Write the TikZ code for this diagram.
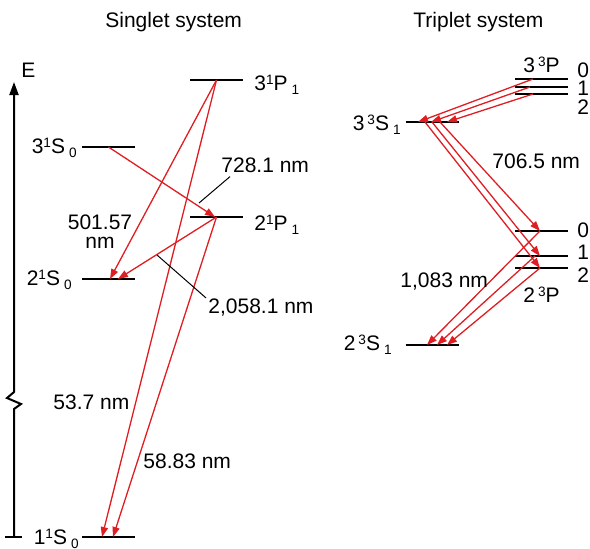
\documentclass[tikz,border=0pt]{standalone}
\usepackage{fontspec}
\setmainfont{Liberation Sans}
\usetikzlibrary{arrows.meta}
\definecolor{trred}{RGB}{222,30,34}
\newcommand{\up}[1]{\raisebox{2.6pt}{\fontsize{6.8}{7}\selectfont #1}}
\newcommand{\dn}[1]{\raisebox{-2pt}{\fontsize{6.8}{7}\selectfont #1}}

\begin{document}
\begin{tikzpicture}[x=0.5pt,y=-0.5pt,
    lvl/.style={inner sep=0pt,outer sep=0pt,minimum width=26.5pt,minimum height=0pt},
    lvlline/.style={line width=1pt},
    tr/.style={draw=trred,line width=0.65pt,-{Triangle[length=5pt,width=3.6pt]}},
    lead/.style={line width=0.5pt},
    txt/.style={inner sep=0pt,font=\fontsize{10.5}{10.5}\selectfont}]
    \useasboundingbox (0,0) rectangle (590,548);
    \node[lvl](P31)at (216.5,80){};
    \node[lvl](S31)at (108.5,147){};
    \node[lvl](P21)at (216.5,217){};
    \node[lvl](S21)at (108.5,279){};
    \node[lvl](S11)at (108.5,537){};
    \node[lvl](P3a)at (541.5,79){};
    \node[lvl](P3b)at (541.5,87){};
    \node[lvl](P3c)at (541.5,94){};
    \node[lvl](S33)at (432,122){};
    \node[lvl](P2a)at (541.5,231){};
    \node[lvl](P2b)at (541.5,256){};
    \node[lvl](P2c)at (541.5,268){};
    \node[lvl](S23)at (432,345){};
    \draw[lvlline](P31.west)--(P31.east);
    \draw[lvlline](S31.west)--(S31.east);
    \draw[lvlline](P21.west)--(P21.east);
    \draw[lvlline](S21.west)--(S21.east);
    \draw[lvlline](S11.west)--(S11.east);
    \draw[lvlline](P3a.west)--(P3a.east);
    \draw[lvlline](P3b.west)--(P3b.east);
    \draw[lvlline](P3c.west)--(P3c.east);
    \draw[lvlline](S33.west)--(S33.east);
    \draw[lvlline](P2a.west)--(P2a.east);
    \draw[lvlline](P2b.west)--(P2b.east);
    \draw[lvlline](P2c.west)--(P2c.east);
    \draw[lvlline](S23.west)--(S23.east);
    \coordinate(Etop)at (14,82);
    \coordinate(Ebot)at (14,537);
    \coordinate(b1)at (14,392);
    \coordinate(b2)at (7,398);
    \coordinate(b3)at (21,404);
    \coordinate(b4)at (14,409);
    \coordinate(tl)at (5,537);
    \coordinate(tr)at (22,537);
    \draw[line width=1pt,-{Triangle[length=6.5pt,width=4.5pt]}](Ebot)--(b4)--(b3)--(b2)--(b1)--(Etop);
    \draw[line width=1pt](tl)--(tr);
    \draw[tr](S31.center)--([xshift=-0.75pt]P21.center);
    \draw[tr](P31.center)--([xshift=0.75pt]S21.center);
    \draw[tr](P21.center)--([xshift=4.75pt]S21.center);
    \draw[tr](P31.center)--([xshift=-3.25pt]S11.center);
    \draw[tr](P21.center)--([xshift=2.25pt]S11.center);
    \draw[tr]([xshift=-4.25pt]P3a.center)--([xshift=-7pt]S33.center);
    \draw[tr]([xshift=-5.75pt]P3b.center)--([xshift=-0.5pt]S33.center);
    \draw[tr]([xshift=-4.25pt]P3c.center)--([xshift=7.5pt]S33.center);
    \draw[tr]([xshift=4pt]S33.center)--([xshift=-0.75pt]P2a.center);
    \draw[tr](S33.center)--([xshift=-0.75pt]P2b.center);
    \draw[tr]([xshift=-3.5pt]S33.center)--([xshift=-0.75pt]P2c.center);
    \draw[tr]([xshift=-0.75pt]P2a.center)--([xshift=-2.5pt]S23.center);
    \draw[tr]([xshift=-3.25pt]P2b.center)--([xshift=2.5pt]S23.center);
    \draw[tr]([xshift=-0.75pt]P2c.center)--([xshift=7.5pt]S23.center);
    \node[txt,anchor=base west](tS)at (105,27){Singlet system};
    \node[txt,anchor=base west](tT)at (413,27){Triplet system};
    \node[txt,anchor=base west](lE)at (21,77){E};
    \node[txt,anchor=base west](lP31)at (254,90){3\up{1}P\kern2pt\dn{1}};
    \node[txt,anchor=base east](lS31)at (77,153){3\up{1}S\kern2pt\dn{0}};
    \node[txt,anchor=base west](lP21)at (254,230){2\up{1}P\kern2pt\dn{1}};
    \node[txt,anchor=base east](lS21)at (72,285){2\up{1}S\kern2pt\dn{0}};
    \node[txt,anchor=base east](lS11)at (79,544){1\up{1}S\kern2pt\dn{0}};
    \node[txt,anchor=base west](l728)at (221,172){728.1 nm};
    \node[txt,align=center](l501)at (100,232){501.57\\[-1pt]nm};
    \node[txt,anchor=base west](l2058)at (208,313){2,058.1 nm};
    \node[txt,anchor=base west](l537)at (53,409){53.7 nm};
    \node[txt,anchor=base west](l5883)at (143,468){58.83 nm};
    \node[txt,anchor=base west](l3P)at (523,72){3\kern1.5pt\up{3}P};
    \node[txt,anchor=base west](j3a)at (577,77){0};
    \node[txt,anchor=base west](j3b)at (577,95){1};
    \node[txt,anchor=base west](j3c)at (577,114){2};
    \node[txt,anchor=base east](lS33)at (401,130){3\kern1.5pt\up{3}S\kern2pt\dn{1}};
    \node[txt,anchor=base west](l706)at (492,168){706.5 nm};
    \node[txt,anchor=base west](j2a)at (577,237){0};
    \node[txt,anchor=base west](j2b)at (577,259){1};
    \node[txt,anchor=base west](j2c)at (577,282){2};
    \node[txt,anchor=base west](l2P)at (523,302){2\kern1.5pt\up{3}P};
    \node[txt,anchor=base west](l1083)at (400,287){1,083 nm};
    \node[txt,anchor=base east](lS23)at (392,350){2\kern1.5pt\up{3}S\kern2pt\dn{1}};
    \coordinate(k728)at (199,203);
    \coordinate(k2058)at (157,255);
    \draw[lead]([shift={(4.5pt,-2pt)}]l728.south west)--(k728);
    \draw[lead](k2058)--([xshift=-1pt]l2058.north west);
\end{tikzpicture}
\end{document}
